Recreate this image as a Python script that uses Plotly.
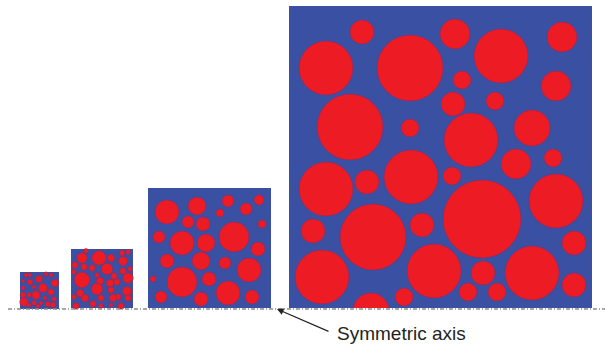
import plotly.graph_objects as go

# Square outlines: left, top, right, bottom (diagram units, y grows downward)
squares = [
    (20, 272, 59, 309),
    (71, 249, 133, 308),
    (148, 188, 271, 308),
    (289, 6, 592, 308),
]

# Particles per square: (centre x, centre y, radius)
circles_1 = [
    (26, 275, 2.1), (30, 275, 2.1), (39, 279, 3.5), (46, 274, 2.1), (51, 275, 2.1),
    (55, 283, 3.8), (23, 281, 1.7), (30, 282, 2.8), (34, 287, 2.1), (43, 288, 4.5),
    (51, 292, 3.2), (23, 288, 2.1), (23, 295, 2.8), (29, 295, 2.4), (36, 295, 4.2),
    (45, 298, 2.1), (54, 299, 2.4), (24, 302, 4.2), (34, 303, 2.4), (41, 303, 2.1),
    (48, 304, 2.8), (53, 305, 2.8), (29, 305, 2.1), (38, 306, 2.1),
]
circles_2 = [
    (82, 258, 5.2), (99, 258, 7.2), (86, 251, 2.4), (111, 258, 3.8), (122, 253, 2.8),
    (128, 252, 2.4), (123, 261, 4.5), (75, 265, 3.2), (84, 267, 3.2), (92, 268, 3.2),
    (107, 269, 5.8), (74, 272, 2.4), (130, 269, 2.4), (123, 271, 3.2), (82, 280, 7.8),
    (97, 275, 2.4), (100, 281, 3.8), (114, 276, 3.2), (128, 278, 5.2), (110, 283, 3.8),
    (117, 282, 3.2), (97, 289, 5.8), (80, 293, 3.8), (111, 290, 3.2), (127, 291, 4.5),
    (118, 297, 3.2), (74, 297, 2.4), (85, 298, 3.8), (101, 298, 3.2), (113, 298, 3.8),
    (128, 298, 3.2), (93, 304, 3.2), (76, 306, 3.2), (101, 306, 2.4), (121, 306, 3.2),
    (111, 305, 2.1),
]
circles_3 = [
    (167, 212, 12), (197, 206, 9), (228, 201, 6), (259, 200, 5), (220, 213, 4),
    (246, 209, 6), (188, 222, 6), (203, 224, 7), (234, 237, 15), (262, 224, 4),
    (159, 237, 6), (182, 243, 12), (206, 243, 9), (258, 249, 7), (167, 261, 7),
    (201, 261, 9), (225, 263, 6), (249, 270, 12), (153, 279, 3), (182, 282, 15),
    (209, 279, 7), (161, 297, 6), (201, 299, 7), (228, 293, 12), (252, 297, 7),
]
circles_4 = [
    (362, 32, 12), (326, 68, 27), (410, 68, 33), (455, 34, 15), (501, 56, 27),
    (562, 37, 15), (462, 80, 9), (556, 86, 15), (453, 104, 12), (495, 101, 9),
    (350, 127, 33), (410, 128, 9), (471, 140, 27), (532, 128, 18), (516, 164, 15),
    (553, 158, 9), (326, 189, 27), (367, 182, 12), (411, 177, 27), (452, 176, 9),
    (482, 219, 39), (556, 201, 27), (313, 231, 12), (373, 237, 33), (422, 225, 12),
    (574, 243, 12), (322, 277, 27), (434, 271, 27), (483, 273, 12), (532, 273, 27),
    (574, 285, 12), (468, 292, 9), (497, 292, 9), (404, 297, 9), (371, 311, 18),
]
all_circles = [circles_1, circles_2, circles_3, circles_4]

axis_y = 309
axis_x = (8, 605)
label_text = "Symmetric axis"

BLUE = "#3a50a2"
RED = "#ed1c24"

shapes = []
for (x0, y0, x1, y1), parts in zip(squares, all_circles):
    shapes.append(dict(type="rect", x0=x0, y0=y0, x1=x1, y1=y1,
                       fillcolor=BLUE, line=dict(width=0), layer="above"))
    for cx, cy, r in parts:
        shapes.append(dict(type="circle", x0=cx - r, x1=cx + r, y0=cy - r, y1=cy + r,
                           fillcolor=RED, line=dict(color="#8a2a6a", width=0.6),
                           layer="above"))

# trim particles that cross the bottom of the largest square
shapes.append(dict(type="rect", x0=squares[3][0] - 2, x1=squares[3][2] + 2,
                   y0=squares[3][3], y1=348, fillcolor="white",
                   line=dict(width=0), layer="above"))

# symmetry axis
shapes.append(dict(type="line", x0=axis_x[0], x1=axis_x[1], y0=axis_y, y1=axis_y,
                   line=dict(color="#8c8c8c", width=1.6, dash="4px,2px,1px,2px"),
                   layer="above"))

fig = go.Figure()
fig.update_layout(
    width=605, height=348,
    margin=dict(l=0, r=0, t=0, b=0),
    paper_bgcolor="white", plot_bgcolor="white",
    showlegend=False,
    xaxis=dict(range=[0, 605], visible=False, fixedrange=True),
    yaxis=dict(range=[348, 0], visible=False, fixedrange=True),
    shapes=shapes,
    annotations=[
        dict(x=277, y=309, ax=330, ay=332, xref="x", yref="y", axref="x", ayref="y",
             text="", showarrow=True, arrowhead=2, arrowsize=1.1, arrowwidth=1.2,
             arrowcolor="#222222", standoff=0),
        dict(x=335, y=333, xref="x", yref="y", text=label_text, showarrow=False,
             xanchor="left", yanchor="middle",
             font=dict(family="Liberation Sans, Arial, sans-serif", size=19,
                       color="#231f20")),
    ],
)
fig.write_html("out.html")
